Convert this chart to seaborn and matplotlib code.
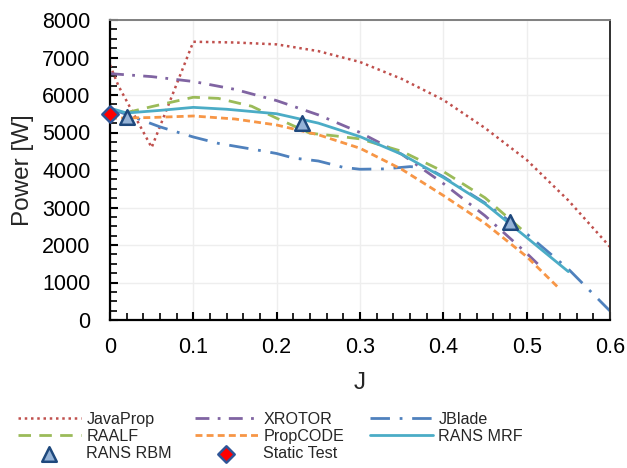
import matplotlib
matplotlib.use("Agg")
import matplotlib.pyplot as plt
from matplotlib.ticker import MultipleLocator
import seaborn as sns
import pandas as pd

# ---- data ----
J_java = [0, 0.01, 0.05, 0.1, 0.15, 0.2, 0.25, 0.3, 0.35, 0.4, 0.45, 0.5, 0.55, 0.6]
P_java = [6800, 6250, 4600, 7420, 7400, 7350, 7170, 6880, 6430, 5870, 5120, 4270, 3190, 1950]

J_xrotor = [0, 0.05, 0.1, 0.15, 0.2, 0.25, 0.3, 0.35, 0.4, 0.45, 0.5, 0.52]
P_xrotor = [6570, 6490, 6360, 6150, 5850, 5470, 5000, 4420, 3640, 2780, 1780, 1350]

J_jblade = [0, 0.02, 0.06, 0.1, 0.13, 0.18, 0.2, 0.22, 0.25, 0.28, 0.3, 0.33, 0.36, 0.38,
            0.4, 0.45, 0.5, 0.55, 0.6]
P_jblade = [5640, 5480, 5150, 4880, 4710, 4520, 4440, 4320, 4240, 4070, 4020, 4030, 4090, 4060,
            3820, 3120, 2300, 1360, 240]

J_raalf = [0.02, 0.05, 0.1, 0.13, 0.17, 0.2, 0.24, 0.27, 0.3, 0.35, 0.4, 0.45, 0.5]
P_raalf = [5530, 5690, 5940, 5910, 5700, 5380, 4980, 4910, 4830, 4500, 3960, 3260, 2300]

J_propcode = [0, 0.05, 0.1, 0.15, 0.2, 0.25, 0.3, 0.35, 0.4, 0.45, 0.5, 0.54]
P_propcode = [5380, 5400, 5440, 5360, 5200, 4940, 4580, 4020, 3320, 2580, 1690, 820]

J_mrf = [0, 0.02, 0.06, 0.1, 0.14, 0.2, 0.25, 0.3, 0.35, 0.4, 0.45, 0.5, 0.55]
P_mrf = [5650, 5520, 5590, 5670, 5620, 5500, 5250, 4890, 4420, 3800, 3100, 2200, 1290]

J_rbm = [0.02, 0.23, 0.48]
P_rbm = [5420, 5260, 2620]

J_static = [0]
P_static = [5500]

x_ticks = [0, 0.1, 0.2, 0.3, 0.4, 0.5, 0.6]
x_tick_labels = ["0", "0.1", "0.2", "0.3", "0.4", "0.5", "0.6"]
y_ticks = [0, 1000, 2000, 3000, 4000, 5000, 6000, 7000, 8000]

# ---- style ----
sns.set_style("ticks")
plt.rcParams['font.family'] = ['Liberation Sans', 'DejaVu Sans']

fig = plt.figure(figsize=(6.27, 4.68), dpi=100)
ax = fig.add_axes([110/627, 148/468, 500/627, 300/468])

series = [
    ("JavaProp", J_java, P_java, "#C0504D", 1.8, (0, (1, 1.5))),
    ("XROTOR", J_xrotor, P_xrotor, "#8064A2", 2.0, (0, (5, 3, 1, 3))),
    ("JBlade", J_jblade, P_jblade, "#4F81BD", 2.0, (0, (7, 3.5, 1, 3.5))),
    ("RAALF", J_raalf, P_raalf, "#9BBB59", 2.0, (0, (4.5, 3))),
    ("PropCODE", J_propcode, P_propcode, "#F79646", 2.0, (0, (2.5, 1.5))),
    ("RANS MRF", J_mrf, P_mrf, "#4BACC6", 2.0, "-"),
]

handles = {}
for name, xs, ys, col, lw, ls in series:
    df = pd.DataFrame({"J": xs, "P": ys})
    sns.lineplot(data=df, x="J", y="P", ax=ax, color=col, linewidth=lw,
                 linestyle=ls, estimator=None, sort=False, label=name, legend=False)
    handles[name] = ax.lines[-1]

df_rbm = pd.DataFrame({"J": J_rbm, "P": P_rbm})
sns.scatterplot(data=df_rbm, x="J", y="P", ax=ax, marker="^", s=110,
                color="#95B3D7", edgecolor="#1F497D", linewidth=1.8, zorder=5,
                label="RANS RBM", legend=False, clip_on=False)
handles["RANS RBM"] = ax.collections[-1]

df_st = pd.DataFrame({"J": J_static, "P": P_static})
sns.scatterplot(data=df_st, x="J", y="P", ax=ax, marker="D", s=70,
                color="#FF0000", edgecolor="#2F5597", linewidth=1.8, zorder=6,
                label="Static Test", legend=False, clip_on=False)
handles["Static Test"] = ax.collections[-1]

ax.set_xlim(0, 0.6)
ax.set_ylim(0, 8000)
ax.set_xticks(x_ticks)
ax.set_xticklabels(x_tick_labels)
ax.set_yticks(y_ticks)
ax.xaxis.set_minor_locator(MultipleLocator(0.02))
ax.yaxis.set_minor_locator(MultipleLocator(250))
ax.grid(True, which="major", color="#EEEEEE", linewidth=1.0)
ax.set_axisbelow(True)
ax.xaxis.set_tick_params(which="both", direction="in", bottom=True, top=False,
                         labelsize=15.5, color="black", labelcolor="black")
ax.yaxis.set_tick_params(which="both", direction="in", left=True, right=False,
                         labelsize=15.5, color="black", labelcolor="black")
ax.xaxis.set_tick_params(which="major", length=5.5, width=1.5, pad=12)
ax.yaxis.set_tick_params(which="major", length=5.5, width=1.5, pad=14)
ax.xaxis.set_tick_params(which="minor", length=4.8, width=1.2)
ax.yaxis.set_tick_params(which="minor", length=4.8, width=1.2)

for s in ["left", "bottom"]:
    ax.spines[s].set_color("black")
    ax.spines[s].set_linewidth(1.6)
ax.spines["top"].set_color("#808080")
ax.spines["top"].set_linewidth(1.4)
ax.spines["right"].set_color("#303030")
ax.spines["right"].set_linewidth(1.4)

ax.set_xlabel("J", fontsize=17.5, labelpad=10)
ax.set_ylabel("Power [W]", fontsize=17.5, labelpad=6)

cols = [["JavaProp", "RAALF", "RANS RBM"],
        ["XROTOR", "PropCODE", "Static Test"],
        ["JBlade", "RANS MRF"]]
xs_leg = [18/627, 195/627, 370/627]
for names, xl in zip(cols, xs_leg):
    leg = fig.legend([handles[n] for n in names], names, loc="upper left",
                     bbox_to_anchor=(xl, 1 - 412/468), frameon=False,
                     fontsize=11.6, handlelength=3.9, handletextpad=0.35,
                     labelspacing=0.12, borderpad=0, borderaxespad=0,
                     scatterpoints=1, numpoints=1)

fig.savefig("out.png", dpi=100)
